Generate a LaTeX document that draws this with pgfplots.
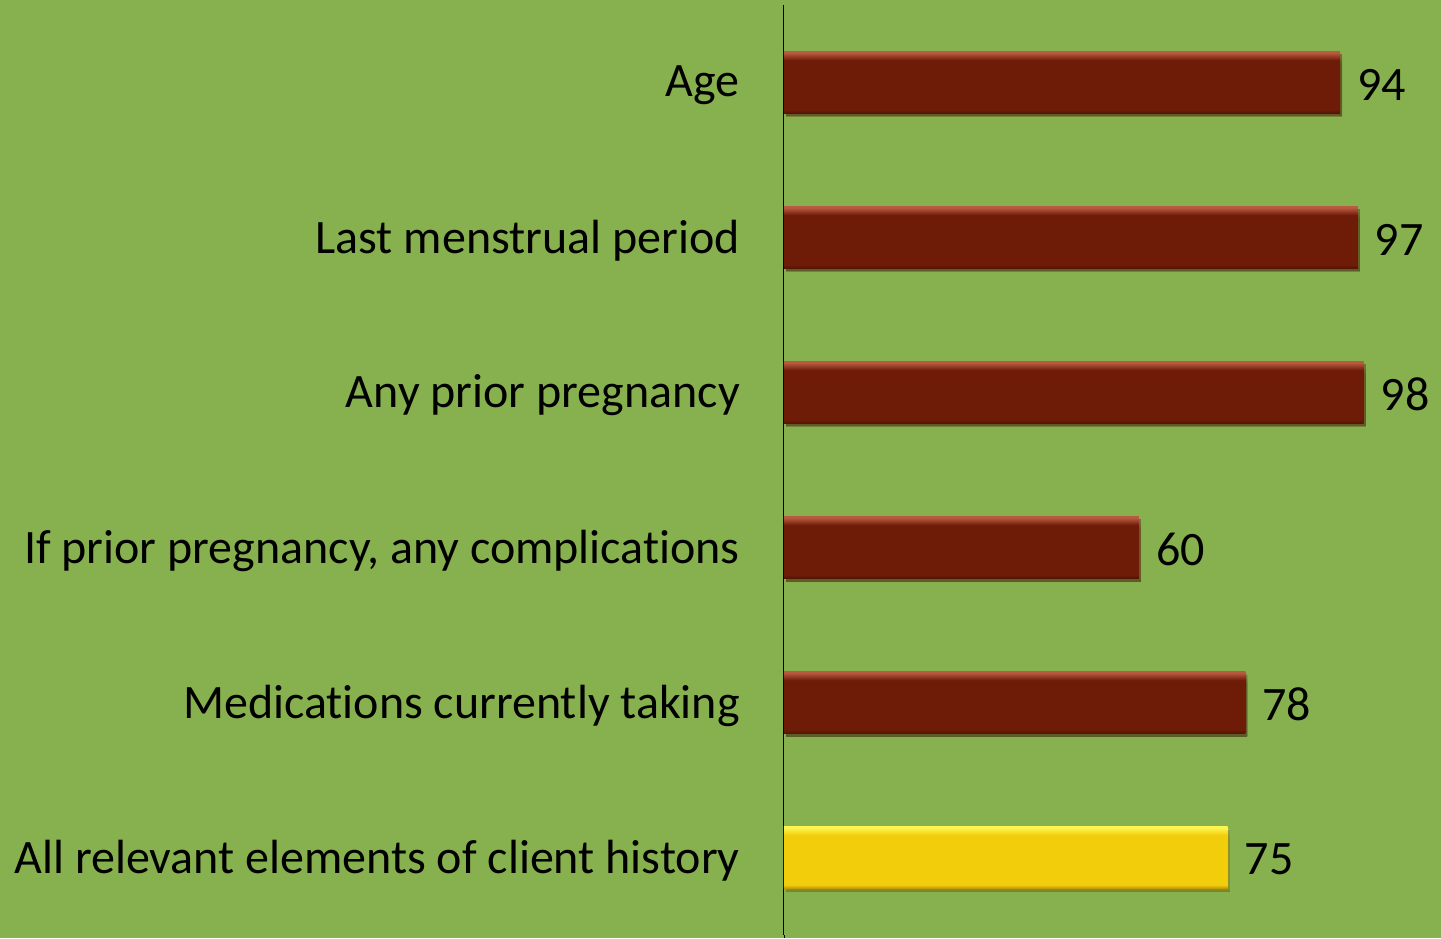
\documentclass[border=0pt]{standalone}
\usepackage{fontspec}
\setmainfont{Carlito}[Ligatures={NoCommon}]
\usepackage{pgfplots}
\pgfplotsset{compat=1.18}
\usetikzlibrary{backgrounds,calc,shadows}
\definecolor{bg}{RGB}{135,176,78}
\definecolor{rmain}{RGB}{110,28,8}
\definecolor{rdark}{RGB}{80,20,6}
\definecolor{rlight}{RGB}{185,90,65}
\definecolor{ymain}{RGB}{242,205,12}
\definecolor{ydark}{RGB}{185,150,10}
\definecolor{ylight}{RGB}{255,245,80}
\pgfdeclareverticalshading{redbar}{100bp}{color(0bp)=(rdark); color(25bp)=(rdark); color(28bp)=(rmain); color(68bp)=(rmain); color(74bp)=(rlight); color(75bp)=(rlight); color(100bp)=(rlight)}
\pgfdeclareverticalshading{yelbar}{100bp}{color(0bp)=(ydark); color(25bp)=(ydark); color(28bp)=(ymain); color(68bp)=(ymain); color(74bp)=(ylight); color(75bp)=(ylight); color(100bp)=(ylight)}
\pgfplotsset{
  redb/.style={draw=none, shading=redbar, drop shadow={shadow xshift=2bp, shadow yshift=-3bp, opacity=0.3, fill=black}},
  yelb/.style={draw=none, shading=yelbar, drop shadow={shadow xshift=2bp, shadow yshift=-3bp, opacity=0.3, fill=black}},
}
\begin{document}
\begin{tikzpicture}
\begin{axis}[
  name=ax,
  scale only axis,
  width=657bp, height=930bp,
  xmin=0, xmax=111.07,
  ymin=-0.5, ymax=5.5,
  y dir=reverse,
  xbar, bar width=62bp, bar shift=0pt,
  axis x line=none,
  axis y line*=left,
  y axis line style={black, line width=1bp},
  xtick=\empty,
  ytick={0,1,2,3,4,5},
  yticklabels={Age,Last menstrual period,Any prior pregnancy,{If prior pregnancy, any complications},Medications currently taking,All relevant elements of client history},
  major tick length=0pt,
  yticklabel style={font=\fontsize{48bp}{52bp}\selectfont, anchor=east, inner sep=0pt, xshift=-44bp, yshift=-3bp},
  nodes near coords,
  nodes near coords style={font=\fontsize{48bp}{52bp}\selectfont, anchor=west, inner sep=0pt, xshift=17bp, yshift=-2bp, /pgf/number format/assume math mode=true},
  clip=false,
]
\addplot[redb] coordinates {(94,0)};
\addplot[redb] coordinates {(97,1)};
\addplot[redb] coordinates {(98,2)};
\addplot[redb] coordinates {(60,3)};
\addplot[redb] coordinates {(78,4)};
\addplot[yelb] coordinates {(75,5)};
\end{axis}
\begin{scope}[on background layer]
\fill[bg] ($(ax.south west)+(-784bp,-3bp)$) rectangle ($(ax.north east)+(0,5bp)$);
\draw[black, line width=1bp] ($(ax.south west)+(0,-3bp)$) -- (ax.south west);
\end{scope}
\end{tikzpicture}
\end{document}
